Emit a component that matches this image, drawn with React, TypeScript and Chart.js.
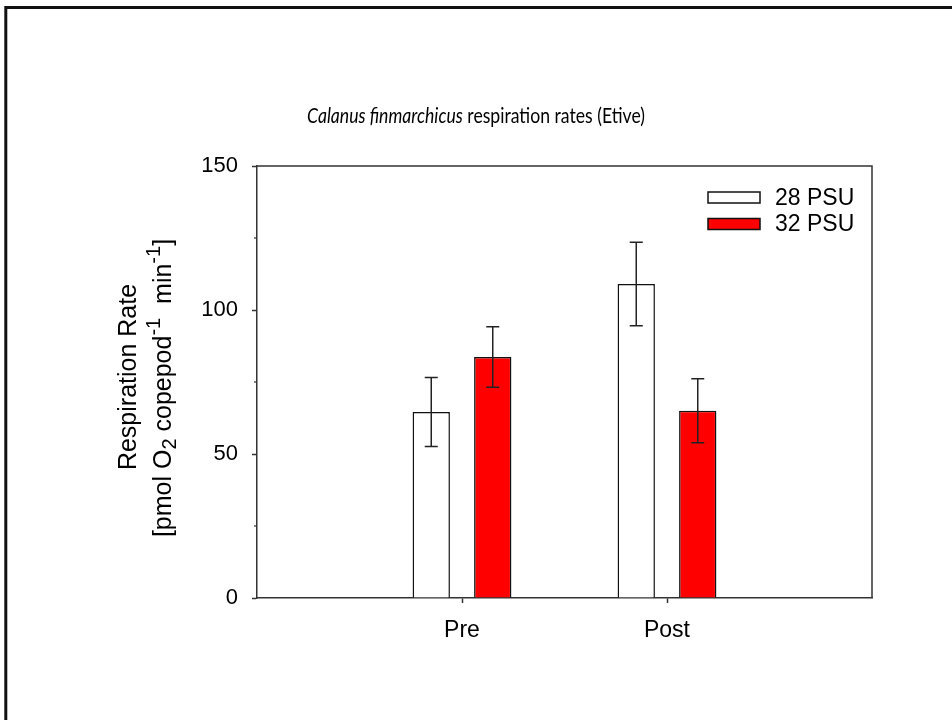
import React, { useEffect, useRef } from "react";
import { Chart, registerables } from "chart.js";

Chart.register(...registerables);

// ---- data ----
const categories = ["", "Pre", "Post", ""];
const seriesLabels = ["28 PSU", "32 PSU"];
const psu28 = [null, 64.6, 109.0, null];
const psu32 = [null, 83.7, 65.0, null];
const psu28Err = [null, 12.0, 14.5, null];
const psu32Err = [null, 10.5, 11.1, null];
const yTicks = [0, 50, 100, 150];
const titleItalic = "Calanus finmarchicus";
const titleRest = " respiration rates (Etive)";
const yLabelLine1 = "Respiration Rate";
// second line parts: [text, kind] kind: n = normal, sub, sup
const yLabelLine2: [string, string][] = [
  ["[pmol O", "n"],
  ["2", "sub"],
  [" copepod", "n"],
  ["-1", "sup"],
  ["  min", "n"],
  ["-1", "sup"],
  ["]", "n"],
];

const seriesFill = ["#ffffff", "#ff0000"];
const errorSets = [psu28Err, psu32Err];
const SANS = "'Liberation Sans', Arial, Helvetica, sans-serif";
const TITLE_FONT = "Lato, 'Open Sans', sans-serif";

const decor = {
  id: "decor",
  afterDatasetsDraw(chart: any) {
    const { ctx } = chart;
    const y = chart.scales.y;
    ctx.save();
    ctx.strokeStyle = "#222";
    ctx.lineWidth = 1.5;
    chart.data.datasets.forEach((ds: any, di: number) => {
      const meta = chart.getDatasetMeta(di);
      const errs = errorSets[di];
      meta.data.forEach((el: any, i: number) => {
        const v = ds.data[i];
        const e = errs[i];
        if (v == null || e == null) return;
        const x = el.x;
        const yt = y.getPixelForValue(v + e);
        const yb = y.getPixelForValue(v - e);
        const cap = 6.5;
        ctx.beginPath();
        ctx.moveTo(x, yt);
        ctx.lineTo(x, yb);
        ctx.moveTo(x - cap, yt);
        ctx.lineTo(x + cap, yt);
        ctx.moveTo(x - cap, yb);
        ctx.lineTo(x + cap, yb);
        ctx.stroke();
      });
    });
    ctx.restore();
  },
  afterDraw(chart: any) {
    const { ctx, chartArea: a } = chart;
    const y = chart.scales.y;
    ctx.save();
    // slide border
    ctx.strokeStyle = "#111";
    ctx.lineWidth = 3;
    ctx.strokeRect(5.8, 7.5, 1400, 1400);

    // frame top/right
    ctx.strokeStyle = "#333";
    ctx.lineWidth = 1.5;
    ctx.beginPath();
    ctx.moveTo(a.left, a.top);
    ctx.lineTo(a.right, a.top);
    ctx.lineTo(a.right, a.bottom);
    ctx.stroke();

    // minor ticks
    ctx.lineWidth = 1.2;
    for (let i = 0; i < yTicks.length - 1; i++) {
      const mv = (yTicks[i] + yTicks[i + 1]) / 2;
      const py = y.getPixelForValue(mv);
      ctx.beginPath();
      ctx.moveTo(a.left, py);
      ctx.lineTo(a.left - 3, py);
      ctx.stroke();
    }

    // legend
    const lx = 708, lw = 52, lh = 11;
    const rows = [197.5, 224];
    chart.data.datasets.forEach((ds: any, di: number) => {
      const cy = rows[di];
      ctx.fillStyle = seriesFill[di];
      ctx.fillRect(lx, cy - lh / 2, lw, lh);
      ctx.strokeStyle = "#111";
      ctx.lineWidth = 1.5;
      ctx.strokeRect(lx, cy - lh / 2, lw, lh);
      ctx.fillStyle = "#000";
      ctx.font = `23px ${SANS}`;
      ctx.textAlign = "left";
      ctx.textBaseline = "middle";
      ctx.fillText(ds.label, 775, cy + 1);
    });

    // title
    const tSize = 21;
    ctx.textBaseline = "alphabetic";
    ctx.font = `italic ${tSize}px ${TITLE_FONT}`;
    const w1 = ctx.measureText(titleItalic).width;
    ctx.font = `${tSize}px ${TITLE_FONT}`;
    const w2 = ctx.measureText(titleRest).width;
    const target = 338;
    const sx = Math.min(1, target / (w1 + w2));
    ctx.save();
    ctx.translate(476, 123);
    ctx.scale(sx, 1);
    const start = -(w1 + w2) / 2;
    ctx.fillStyle = "#000";
    ctx.textAlign = "left";
    ctx.font = `italic ${tSize}px ${TITLE_FONT}`;
    ctx.fillText(titleItalic, start, 0);
    ctx.font = `${tSize}px ${TITLE_FONT}`;
    ctx.fillText(titleRest, start + w1, 0);
    ctx.restore();

    // y label
    const cyL = (a.top + a.bottom) / 2;
    const fs = 25;
    ctx.fillStyle = "#000";
    ctx.save();
    ctx.translate(136, cyL - 5);
    ctx.rotate(-Math.PI / 2);
    ctx.font = `${fs}px ${SANS}`;
    ctx.textAlign = "center";
    ctx.fillText(yLabelLine1, 0, 0);
    ctx.restore();

    const small = 20;
    const widths = yLabelLine2.map(([t, k]) => {
      ctx.font = `${k === "n" ? fs : small}px ${SANS}`;
      return ctx.measureText(t).width;
    });
    const total = widths.reduce((s, w) => s + w, 0);
    ctx.save();
    ctx.translate(171, cyL + 6);
    ctx.rotate(-Math.PI / 2);
    ctx.textAlign = "left";
    let px = -total / 2;
    yLabelLine2.forEach(([t, k], i) => {
      ctx.font = `${k === "n" ? fs : small}px ${SANS}`;
      const dy = k === "sub" ? 5 : k === "sup" ? -11 : 0;
      ctx.fillText(t, px, dy);
      px += widths[i];
    });
    ctx.restore();

    ctx.restore();
  },
};

export default function App() {
  const ref = useRef<HTMLCanvasElement>(null);
  useEffect(() => {
    document.body.style.margin = "0";
    const canvas = ref.current!;
    const chart = new Chart(canvas, {
      type: "bar",
      data: {
        labels: categories,
        datasets: [
          {
            label: seriesLabels[0],
            data: psu28 as any,
            backgroundColor: seriesFill[0],
            borderColor: "#111",
            borderWidth: 1.5,
          },
          {
            label: seriesLabels[1],
            data: psu32 as any,
            backgroundColor: seriesFill[1],
            borderColor: "#111",
            borderWidth: 1.5,
          },
        ],
      },
      options: {
        responsive: false,
        animation: false,
        layout: { padding: { top: 166, right: 80, left: 0, bottom: 0 } },
        datasets: { bar: { categoryPercentage: 0.6, barPercentage: 0.607 } },
        plugins: {
          legend: { display: false },
          tooltip: { enabled: false },
          title: { display: false },
        },
        scales: {
          x: {
            type: "category",
            offset: false,
            grid: {
              offset: false,
              drawOnChartArea: false,
              drawTicks: true,
              tickLength: 5,
              tickWidth: 1.5,
              tickColor: (c: any) =>
                c.index === 1 || c.index === 2 ? "#333" : "rgba(0,0,0,0)",
            },
            border: { display: true, color: "#333", width: 1.5 },
            ticks: {
              color: "#000",
              font: { family: SANS, size: 23 },
              padding: 14,
              autoSkip: false,
              maxRotation: 0,
            },
            afterFit: (s: any) => {
              s.height = 122;
            },
          },
          y: {
            min: yTicks[0],
            max: yTicks[yTicks.length - 1],
            afterBuildTicks: (s: any) => {
              s.ticks = yTicks.map((v) => ({ value: v }));
            },
            ticks: {
              color: "#000",
              font: { family: SANS, size: 22 },
              padding: 14,
            },
            grid: {
              drawOnChartArea: false,
              drawTicks: true,
              tickLength: 5,
              tickWidth: 1.5,
              tickColor: "#333",
            },
            border: { display: true, color: "#333", width: 1.5 },
            afterFit: (s: any) => {
              s.width = 257;
            },
          },
        },
      } as any,
      plugins: [decor],
    });
    return () => chart.destroy();
  }, []);
  return (
    <canvas
      ref={ref}
      width={952}
      height={720}
      style={{ display: "block", width: 952, height: 720 }}
    />
  );
}
